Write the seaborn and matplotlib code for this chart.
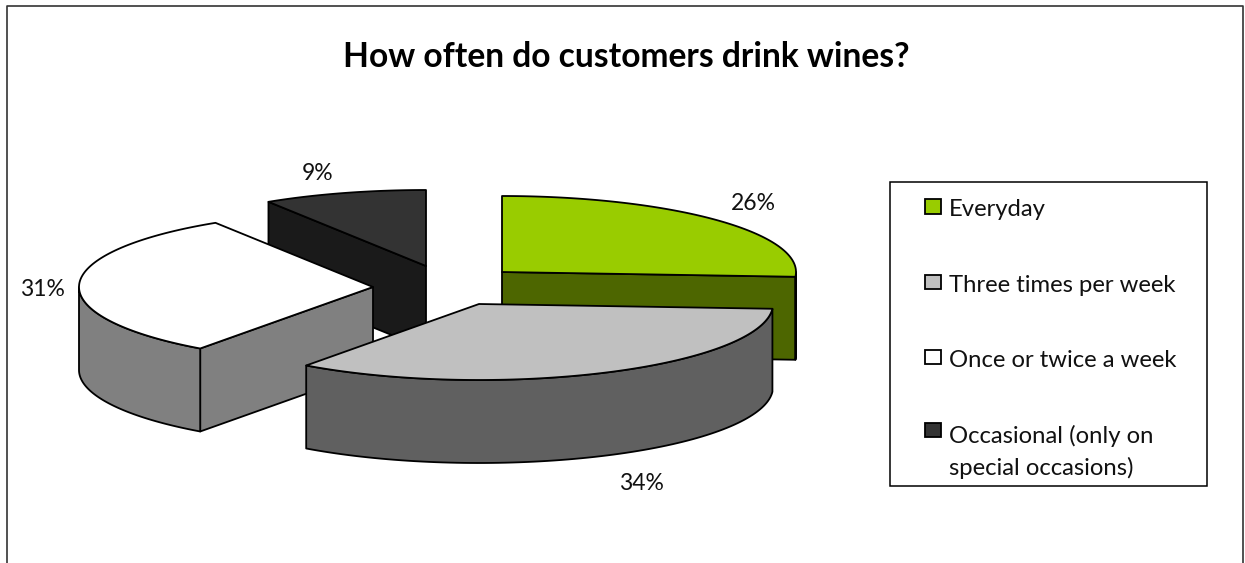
import numpy as np
import matplotlib
matplotlib.use("Agg")
import matplotlib.pyplot as plt
from matplotlib.patches import Patch, Polygon, Rectangle
import seaborn as sns

# Survey shares, clockwise from twelve o'clock
categories = ["Everyday", "Three times per week", "Once or twice a week",
              "Occasional (only on\nspecial occasions)"]
shares = [26, 34, 31, 9]
top_colours = ["#99CC00", "#C0C0C0", "#FFFFFF", "#333333"]

title = "How often do customers drink wines?"

W, H = 1245, 563
RX, RY, DEPTH = 294, 76, 83
centres = [(502, 272), (479, 304), (373, 287), (426, 266)]
label_positions = [(753, 203), (641, 483), (42, 289), (318, 174)]
draw_order = [3, 0, 2, 1]
EDGE = dict(edgecolor="black", linewidth=1.3, joinstyle="round")
PX = 72 / 100  # points per pixel at this resolution

sns.set_theme(style="white")
plt.rcParams["font.family"] = ["Lato", "DejaVu Sans"]
palette = sns.color_palette(top_colours)
side_colours = [tuple(c * 0.5 for c in col) for col in palette]

fig = plt.figure(figsize=(W / 100, H / 100), dpi=100, facecolor="white")
ax = fig.add_axes([0, 0, 1, 1])
ax.set_xlim(0, W)
ax.set_ylim(H, 0)
ax.axis("off")

# Chart frame: the lower edge runs off the canvas
ax.plot([7, 7, 1243, 1243], [H, 5.5, 5.5, H], color="#333333", lw=1.2, zorder=1)


def rim(cx, cy, a0, a1, n=90):
    """Points on the elliptical rim; angles run clockwise from north."""
    t = np.radians(np.linspace(a0, a1, n))
    return np.column_stack([cx + RX * np.sin(t), cy - RY * np.cos(t)])


edges = np.concatenate([[0], np.cumsum(shares)]) * 3.6
z = 2
for i in draw_order:
    a0, a1 = edges[i], edges[i + 1]
    cx, cy = centres[i]
    drop = np.array([0, DEPTH])
    apex = np.array([cx, cy])

    # Cut faces turned towards the viewer
    for ang, visible in ((a0, np.sin(np.radians(a0)) < -1e-6),
                         (a1, np.sin(np.radians(a1)) > 1e-6)):
        if visible:
            p = rim(cx, cy, ang, ang, 1)[0]
            ax.add_patch(Polygon([apex, p, p + drop, apex + drop],
                                 facecolor=side_colours[i], zorder=z, **EDGE))
            z += 1

    # Outer wall along the front half of the rim
    lo, hi = max(a0, 90), min(a1, 270)
    if hi > lo:
        arc = rim(cx, cy, lo, hi)
        ax.add_patch(Polygon(np.vstack([arc, (arc + drop)[::-1]]),
                             facecolor=side_colours[i], zorder=z, **EDGE))
        z += 1

    # Top surface
    ax.add_patch(Polygon(np.vstack([apex, rim(cx, cy, a0, a1)]),
                         facecolor=palette[i], zorder=z, **EDGE))
    z += 1

for (x, y), share in zip(label_positions, shares):
    ax.text(x, y, f"{share}%", ha="center", va="center", fontsize=16.5,
            color="#111111", zorder=50)

ax.text(626, 57, title, ha="center", va="center", fontsize=24.2,
        fontweight="bold", color="black", zorder=50)

# Legend box is a fixed rectangle with the entries laid out inside it
ax.add_patch(Rectangle((890, 182), 317, 304, facecolor="white",
                       edgecolor="black", linewidth=1.1, zorder=39))

handles = [Patch(facecolor=c, edgecolor="black", linewidth=1.3) for c in palette]
leg = ax.legend(
    handles, categories,
    loc="upper left",
    bbox_to_anchor=(890 / W, 1 - 486 / H, 317 / W, 304 / H),
    bbox_transform=fig.transFigure,
    mode="expand", borderaxespad=0, ncol=1,
    frameon=False,
    fontsize=17.2, labelcolor="#111111",
    handlelength=1.42, handleheight=0.75, handletextpad=0.33,
    borderpad=0.72, labelspacing=2.27, alignment="left",
)
leg.set_zorder(40)

# Swatches sit at the right of the handle slot; the wrapped entry's swatch
# lines up with its first text line
for text in leg.get_texts():
    text.set_linespacing(1.55)
for k, h in enumerate(leg.legend_handles):
    h.set_x(18 * PX)
    h.set_width(16 * PX)
    h.set_height(14.5 * PX)
    h.set_y(h.get_y() + (24 if k == 3 else 3) * PX)

fig.savefig("out.png", dpi=100, facecolor="white")
